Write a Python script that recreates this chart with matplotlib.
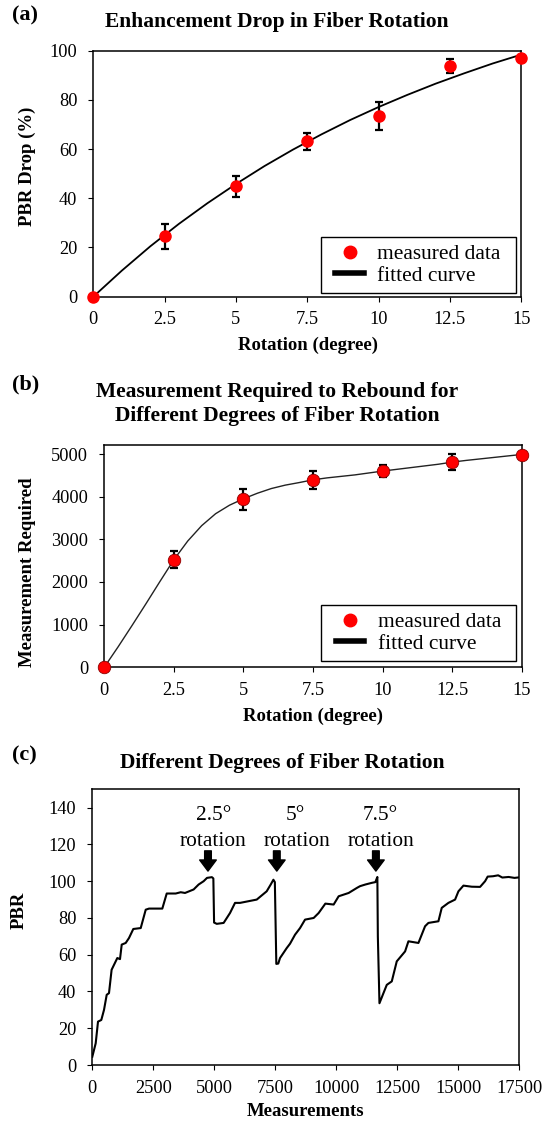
import matplotlib
matplotlib.use("Agg")
import matplotlib.pyplot as plt
from matplotlib.lines import Line2D
from matplotlib.patches import Rectangle

plt.rcParams['font.family'] = ['Liberation Serif', 'DejaVu Serif']

# ---- data ----
rotation = [0, 2.5, 5, 7.5, 10, 12.5, 15]
rotation_labels = ['0', '2.5', '5', '7.5', '10', '12.5', '15']

drop_measured = [0, 24.5, 44.8, 63.1, 73.5, 93.8, 96.9]
drop_err = [0, 5.2, 4.1, 3.5, 5.8, 2.7, 0]
drop_fit_x = [0, 1, 2, 3, 4, 5, 6, 7, 8, 9, 10, 11, 12, 13, 14, 15]
drop_fit_y = [0, 10.6, 20.5, 29.6, 38.0, 45.8, 53.1, 59.8, 66.0, 71.8, 77.1,
              82.0, 86.6, 90.8, 94.8, 98.4]

rebound_measured = [0, 2520, 3940, 4390, 4600, 4810, 4985]
rebound_err = [0, 195, 250, 220, 145, 195, 0]
rebound_fit_x = [0, 0.5, 1, 1.5, 2, 2.5, 3, 3.5, 4, 4.5, 5, 5.5, 6, 6.5, 7,
                 7.5, 8, 9, 10, 11, 12, 12.5, 13, 14, 15]
rebound_fit_y = [0, 480, 980, 1490, 2010, 2520, 2960, 3320, 3600, 3800, 3950,
                 4080, 4190, 4270, 4330, 4395, 4440, 4510, 4600, 4680, 4760,
                 4810, 4850, 4920, 4990]

meas = [0, 139, 234, 369, 480, 590, 684, 791, 959, 1025, 1135, 1205, 1369,
        1504, 1680, 1984, 2189, 2324, 2869, 3049, 3418, 3623, 3799, 4152,
        4357, 4562, 4700, 4900, 4960, 4990, 5100, 5381, 5643, 5848, 6053,
        6738, 7145, 7311, 7420, 7480, 7540, 7620, 7692, 7965, 8102, 8307,
        8512, 8717, 9070, 9275, 9549, 9889, 10094, 10504, 10848, 10971,
        11189, 11451, 11598, 11680, 11700, 11766, 11930, 12066, 12271, 12475,
        12816, 12953, 13363, 13635, 13772, 14182, 14318, 14591, 14865, 15002,
        15207, 15550, 15889, 16094, 16200, 16420, 16630, 16800, 17060, 17300,
        17500]
pbr = [4.5, 11.8, 23.6, 24.5, 30, 38.2, 39.1, 51.8, 56.4, 58.2, 57.6, 65.5,
       66.4, 69.1, 74, 74.5, 84.5, 85.1, 85.1, 93.3, 93.3, 94, 93.6, 95.5,
       98.2, 100, 101.8, 102.2, 101.5, 77.5, 76.8, 77.3, 82.7, 88.2, 88.2,
       90, 94.5, 98.2, 100.8, 99.5, 55, 55.2, 58.2, 63.6, 66, 70.9, 74.5,
       79.1, 80, 82.7, 87.8, 87.3, 91.8, 93.6, 96.4, 97.3, 98.2, 99.1, 99.5,
       102.3, 70, 33.6, 39.1, 43.6, 45.5, 56.4, 61.8, 67.3, 66.4, 75.5, 77.3,
       78.2, 85.5, 88.2, 90, 94.5, 97.6, 97, 96.9, 100, 102.5, 102.7, 103.2,
       102, 102.3, 101.8, 102.1]

deg_labels = ['2.5°', '5°', '7.5°']
deg_x = [4958, 8304, 11815]
rot_word_x = [4958, 8406, 11815]
rot_at = [4740, 7560, 11620]

W, H = 554, 1122
fig = plt.figure(figsize=(W / 100, H / 100), dpi=100)


def box(left, top, right, bottom):
    return [left / W, 1 - bottom / H, (right - left) / W, (bottom - top) / H]


def ftext(x, y, s, **kw):
    fig.text(x / W, 1 - y / H, s, ha='center', va='center', **kw)


def style(ax):
    for sp in ax.spines.values():
        sp.set_linewidth(1.1)
        sp.set_color('black')
    ax.tick_params(direction='out', length=3.5, width=0.8, labelsize=13.2,
                   colors='black')
    ax.tick_params(axis='y', pad=8)
    ax.tick_params(axis='x', pad=7)


def legend_box(left, top, right, bottom):
    fig.add_artist(Rectangle((left / W, 1 - bottom / H), (right - left) / W,
                             (bottom - top) / H, transform=fig.transFigure,
                             facecolor='white', edgecolor='black', lw=1.0,
                             zorder=3))
    handles = [Line2D([], [], marker='o', color='red', ls='none', ms=9),
               Line2D([], [], color='black', lw=4)]
    fig.legend(handles, ['measured data', 'fitted curve'], loc='center left',
               bbox_to_anchor=((left + 15) / W, 1 - (top + bottom) / 2 / H),
               bbox_transform=fig.transFigure, frameon=False, fontsize=15.4,
               borderpad=0, borderaxespad=0, handlelength=1.32,
               handletextpad=0.64, labelspacing=0.08)


# ---- (a) ----
ax1 = fig.add_axes(box(93.3, 50.7, 521.2, 296.7))
ax1.plot(drop_fit_x, drop_fit_y, color='black', lw=1.3, zorder=2)
ax1.errorbar(rotation, drop_measured, yerr=drop_err, fmt='none', ecolor='black',
             elinewidth=1.6, capsize=3, capthick=1.6, zorder=3)
ax1.plot(rotation, drop_measured, 'o', color='red', ms=8, zorder=4, clip_on=False)
ax1.set_xlim(0, 15)
ax1.set_ylim(0, 100)
ax1.set_xticks(rotation)
ax1.set_xticklabels(rotation_labels)
ax1.set_yticks([0, 20, 40, 60, 80, 100])
style(ax1)
legend_box(320.5, 237, 515.8, 293)
ftext(25.4, 15, '(a)', fontsize=16, fontweight='bold')
ftext(276.5, 21.7, 'Enhancement Drop in Fiber Rotation', fontsize=15.5,
      fontweight='bold')
ftext(27.6, 166, 'PBR Drop (%)', fontsize=13.5, fontweight='bold', rotation=90)
ftext(307.7, 345.7, 'Rotation (degree)', fontsize=13.5, fontweight='bold')

# ---- (b) ----
ax2 = fig.add_axes(box(104.2, 445, 521.9, 667.3))
ax2.plot(rebound_fit_x, rebound_fit_y, color='#222222', lw=1.0, zorder=2)
ax2.errorbar(rotation, rebound_measured, yerr=rebound_err, fmt='none',
             ecolor='black', elinewidth=1.6, capsize=3, capthick=1.6, zorder=3)
ax2.plot(rotation, rebound_measured, 'o', color='red', mec='#8b0000', mew=0.6,
         ms=9, zorder=4, clip_on=False)
ax2.set_xlim(0, 15)
ax2.set_ylim(0, 5211)
ax2.set_xticks(rotation)
ax2.set_xticklabels(rotation_labels)
ax2.set_yticks([0, 1000, 2000, 3000, 4000, 5000])
style(ax2)
legend_box(320.8, 605, 515.9, 661)
ftext(25.4, 384, '(b)', fontsize=16, fontweight='bold')
ftext(277.4, 392.3, 'Measurement Required to Rebound for', fontsize=15.5,
      fontweight='bold')
ftext(277.4, 416, 'Different Degrees of Fiber Rotation', fontsize=15.5,
      fontweight='bold')
ftext(27.6, 571.7, 'Measurement Required', fontsize=13.5, fontweight='bold',
      rotation=90)
ftext(313, 716, 'Rotation (degree)', fontsize=13.5, fontweight='bold')

# ---- (c) ----
ax3 = fig.add_axes(box(92.3, 789.3, 519.4, 1065))
ax3.plot(meas, pbr, color='black', lw=1.5)
ax3.set_xlim(0, 17500)
ax3.set_ylim(0, 150)
ax3.set_xticks(range(0, 17501, 2500))
ax3.set_yticks(range(0, 141, 20))
style(ax3)
for xa, xd, xr, s in zip(rot_at, deg_x, rot_word_x, deg_labels):
    ax3.annotate('', xy=(xa, 105.5), xytext=(xa, 116.5),
                 arrowprops=dict(arrowstyle='simple,head_length=0.5,head_width=0.75,tail_width=0.3',
                                 fc='black', ec='black', mutation_scale=16,
                                 shrinkA=0, shrinkB=0))
    ax3.text(xd, 135.6, s, ha='center', va='center', fontsize=15.4)
    ax3.text(xr, 121.6, 'rotation', ha='center', va='center', fontsize=15.4)
ftext(24.7, 755, '(c)', fontsize=16, fontweight='bold')
ftext(282.7, 762.7, 'Different Degrees of Fiber Rotation', fontsize=15.5,
      fontweight='bold')
ftext(19.4, 910, 'PBR', fontsize=13.5, fontweight='bold', rotation=90)
ftext(306, 1111.7, 'Measurements', fontsize=13.5, fontweight='bold')

fig.savefig('out.png', dpi=100)
